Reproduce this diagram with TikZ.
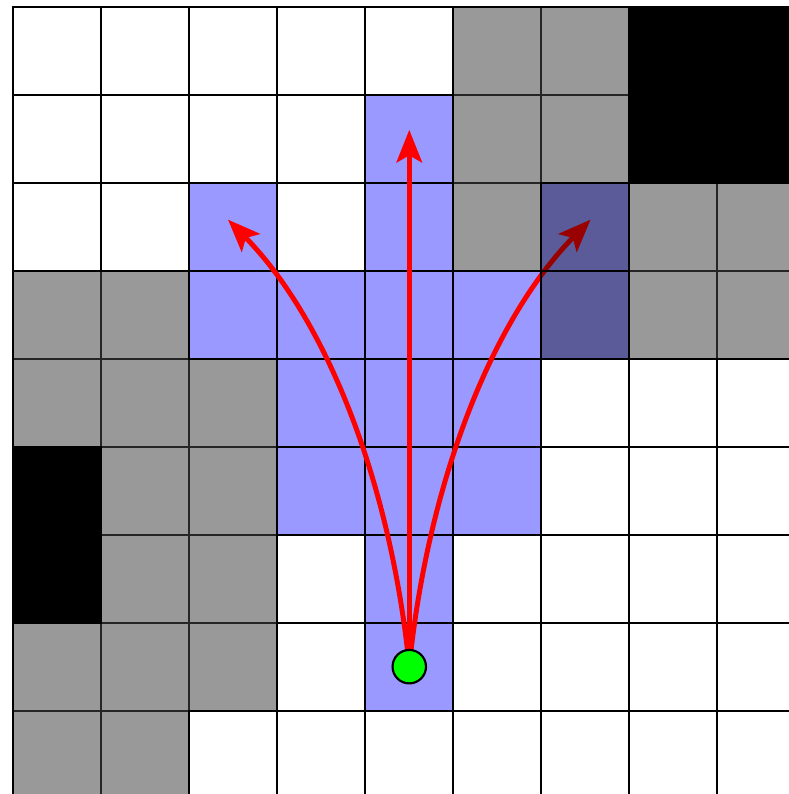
\documentclass[tikz,border=0pt]{standalone}
\usepackage{tikz}
\usetikzlibrary{arrows.meta}
\definecolor{reachblue}{RGB}{153,153,255}
\definecolor{wallgray}{RGB}{153,153,153}
\definecolor{startgreen}{RGB}{0,255,0}
\pgfdeclarelayer{front}
\pgfsetlayers{main,front}

\begin{document}
\begin{tikzpicture}[
  freecell/.style={fill=white,draw=black,line width=0.7pt},
  wallcell/.style={fill=wallgray,draw=black!85,line width=0.6pt},
  blockcell/.style={fill=black,draw=black,line width=0.7pt},
  reachcell/.style={fill=reachblue,draw=black,line width=0.7pt},
  move/.style={red,line width=1.6pt,-{Stealth[length=3.7mm,width=2.9mm,inset=0.8mm]}}]
\useasboundingbox (-0.151,0.076) rectangle (8.815,-8.947);
\clip (-0.151,0.076) rectangle (8.815,-8.947);
\fill[white] (-0.151,0.076) rectangle (8.815,-8.947);
% obstacles
\foreach \c/\r in {5/0,6/0,5/1,6/1,5/2,6/2,7/2,8/2,0/3,1/3,6/3,7/3,8/3,0/4,1/4,2/4,1/5,2/5,1/6,2/6,0/7,1/7,2/7,0/8,1/8}
  \draw[wallcell] (\c,-\r) rectangle ++(1,-1);
% free cells
\foreach \c/\r in {0/0,1/0,2/0,3/0,4/0,0/1,1/1,2/1,3/1,0/2,1/2,3/2,6/4,7/4,8/4,6/5,7/5,8/5,3/6,5/6,6/6,7/6,8/6,3/7,5/7,6/7,7/7,8/7,2/8,3/8,4/8,5/8,6/8,7/8,8/8}
  \draw[freecell] (\c,-\r) rectangle ++(1,-1);
\foreach \c/\r in {7/0,8/0,7/1,8/1,0/5,0/6}
  \draw[blockcell] (\c,-\r) rectangle ++(1,-1);
% reachable cells
\foreach \c/\r in {4/1,2/2,4/2,2/3,3/3,4/3,5/3,3/4,4/4,5/4,3/5,4/5,5/5,4/6,4/7}
  \draw[reachcell] (\c,-\r) rectangle ++(1,-1);
\fill[black] (7,0) rectangle (9.2,-2);
\draw[line width=0.7pt] (0,-9.2) -- (0,0) -- (9.2,0);
% motions
\begin{pgfonlayer}{front}
\node[circle,draw,fill=startgreen,line width=0.7pt,minimum size=3.8mm,inner sep=0pt] (start) at (4.5,-7.5) {};
\end{pgfonlayer}
\coordinate (up) at (4.5,-1.4);
\coordinate (left) at (2.44,-2.42);
\coordinate (right) at (6.56,-2.42);
\draw[move] (start.center) -- (up);
\draw[move] (start.center) .. controls (4.3,-5.5) and (3.6,-3.6) .. (left);
\draw[move] (start.center) .. controls (4.7,-5.5) and (5.4,-3.6) .. (right);
\begin{scope}[blend mode=multiply]
\draw[reachcell] (6,-2) rectangle ++(1,-1);
\draw[reachcell] (6,-3) rectangle ++(1,-1);
\end{scope}
\end{tikzpicture}
\end{document}
